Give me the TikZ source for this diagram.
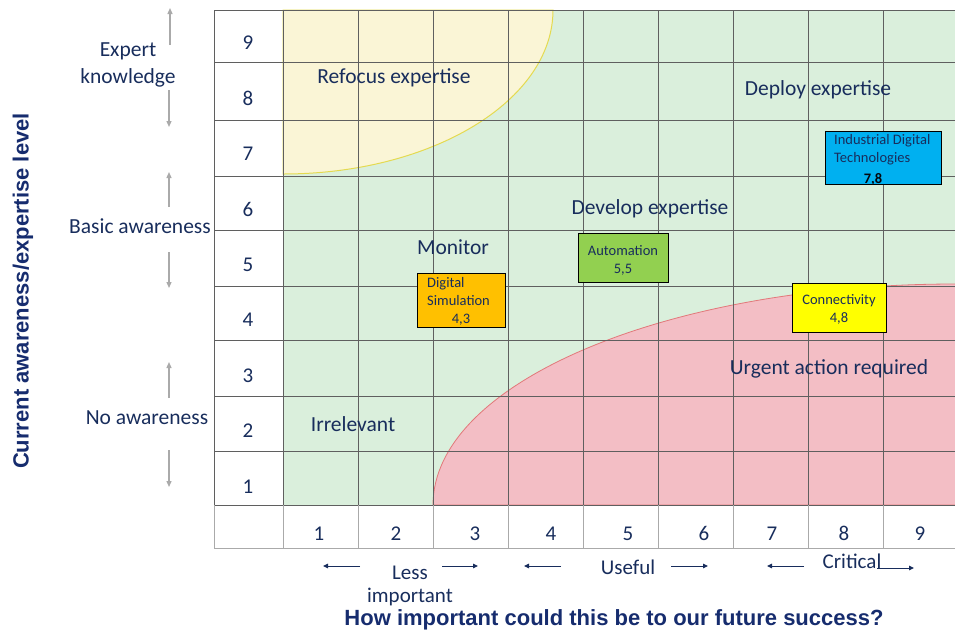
\documentclass[tikz,border=0pt]{standalone}
\usepackage{fontspec}
\setmainfont{Carlito}
\newfontfamily\titlefont{Liberation Sans}
\usetikzlibrary{arrows.meta}
\definecolor{navy}{RGB}{24,45,92}
\definecolor{titleblue}{RGB}{22,44,110}
\definecolor{zonegreen}{RGB}{218,239,220}
\definecolor{zonered}{RGB}{243,190,197}
\definecolor{zoneyellow}{RGB}{250,245,214}
\definecolor{edgeyellow}{RGB}{228,218,80}
\definecolor{edgered}{RGB}{226,120,122}
\definecolor{gridline}{RGB}{95,95,95}
\definecolor{axisline}{RGB}{170,170,170}
\definecolor{boxorange}{RGB}{255,192,0}
\definecolor{boxgreen}{RGB}{146,208,80}
\definecolor{boxyellow}{RGB}{255,255,0}
\definecolor{boxblue}{RGB}{0,176,240}
\begin{document}
\begin{tikzpicture}[x=1pt,y=-1pt,
  lbl/.style={text=navy,font=\fontsize{21.5}{24}\selectfont,inner sep=0pt,anchor=mid,yshift=-4pt},
  num/.style={text=navy,font=\fontsize{21}{24}\selectfont,inner sep=0pt,anchor=mid,yshift=-4pt},
  small/.style={text=navy,font=\fontsize{14.5}{16}\selectfont,inner sep=0pt,anchor=mid,yshift=-3pt},
  tagbox/.style={draw=black,line width=0.9pt,inner sep=0pt},
  grid/.style={draw=gridline,line width=0.9pt},
  axisgrid/.style={draw=axisline,line width=0.9pt},
  grayarrow/.style={draw=axisline,line width=1.3pt,-{Triangle[length=6pt,width=5pt]}},
  navyarrow/.style={draw=navy,line width=1pt,-{Triangle[length=5pt,width=4.5pt]}},
  title/.style={text=titleblue,font=\titlefont\bfseries\fontsize{22}{24}\selectfont,inner sep=0pt}
]
\useasboundingbox (0,0) rectangle (955,633);

% zones
\fill[zonegreen] (283,10) rectangle (958,505);
\filldraw[fill=zoneyellow,draw=edgeyellow,line width=1pt]
  (283,174) arc[start angle=270,end angle=360,x radius=270pt,y radius=164pt] -- (283,10) -- cycle;
\filldraw[fill=zonered,draw=edgered,line width=0.8pt]
  (433,505) arc[start angle=180,end angle=90,x radius=522pt,y radius=221pt] -- (958,284) -- (958,505) -- cycle;

% grid
\foreach \x in {283,358,433,508,583,658,733,808,883}
  \draw[grid] (\x,10) -- (\x,505);
\foreach \y in {10,62,120,176,230,286,340,396,451,505}
  \draw[grid] (214,\y) -- (958,\y);
\draw[grid] (214,10) -- (214,505);
\foreach \x in {283,358,433,508,583,658,733,808,883}
  \draw[axisgrid] (\x,505) -- (\x,548);
\draw[axisgrid] (214,505) -- (214,548) -- (958,548);

% row numbers
\foreach \n/\y in {9/43,8/99,7/154,6/210,5/265,4/320,3/376,2/431,1/487}
  \node[num] (r\n) at (248,\y) {\n};
% column numbers
\foreach \n/\x in {1/319,2/396,3/475,4/551,5/628,6/704,7/772,8/844,9/920}
  \node[num] (c\n) at (\x,534) {\n};

% zone labels
\node[lbl] (refocus) at (394,77) {Refocus expertise};
\node[lbl] (deploy) at (818,89) {Deploy expertise};
\node[lbl] (develop) at (650,208) {Develop expertise};
\node[lbl] (monitor) at (453,248) {Monitor};
\node[lbl] (irrel) at (353,425) {Irrelevant};
\node[lbl] (urgent) at (829,368) {Urgent action required};

% technology boxes
\node[tagbox,fill=boxorange,minimum width=88pt,minimum height=54pt] (sim) at (461,300) {};
\node[small,anchor=mid west] (simA) at (427,282) {Digital};
\node[small,anchor=mid west] (simB) at (427,300) {Simulation};
\node[small] (simC) at (461,318) {4,3};

\node[tagbox,fill=boxgreen,minimum width=90pt,minimum height=49pt] (auto) at (623,257.5) {};
\node[small] (autoA) at (623,250) {Automation};
\node[small] (autoB) at (623,268) {5,5};

\node[tagbox,fill=boxyellow,minimum width=94pt,minimum height=49pt] (conn) at (839,307.5) {};
\node[small] (connA) at (839,299) {Connectivity};
\node[small] (connB) at (839,317) {4,8};

\node[tagbox,fill=boxblue,minimum width=116pt,minimum height=53pt] (idt) at (883,157.5) {};
\node[small,anchor=mid west] (idtA) at (834,139) {Industrial Digital};
\node[small,anchor=mid west] (idtB) at (834,157) {Technologies};
\node[small,font=\fontsize{14.5}{16}\selectfont\bfseries,text=black!85!navy] (idtC) at (873,178) {7,8};

% left axis labels
\node[lbl,align=center,font=\fontsize{21.5}{27}\selectfont] (expert) at (128,77) {Expert\\knowledge};
\node[lbl] (basic) at (140,227) {Basic awareness};
\node[lbl] (noaw) at (147,418) {No awareness};
\coordinate (eu1) at (170,45); \coordinate (eu2) at (170,8);
\coordinate (ed1) at (169,90); \coordinate (ed2) at (169,127);
\coordinate (bu1) at (169,207); \coordinate (bu2) at (169,172);
\coordinate (bd1) at (169,252); \coordinate (bd2) at (169,288);
\coordinate (nu1) at (169,398); \coordinate (nu2) at (169,362);
\coordinate (nd1) at (169,450); \coordinate (nd2) at (169,487);
\draw[grayarrow] (eu1) -- (eu2);
\draw[grayarrow] (ed1) -- (ed2);
\draw[grayarrow] (bu1) -- (bu2);
\draw[grayarrow] (bd1) -- (bd2);
\draw[grayarrow] (nu1) -- (nu2);
\draw[grayarrow] (nd1) -- (nd2);

% bottom axis labels
\node[lbl,font=\fontsize{21}{24}\selectfont] (less) at (410,573) {Less};
\node[lbl,font=\fontsize{21}{24}\selectfont] (imp) at (410,596) {important};
\node[lbl,font=\fontsize{21}{24}\selectfont] (useful) at (628,568) {Useful};
\node[lbl,font=\fontsize{21}{24}\selectfont] (critical) at (852,562) {Critical};
\coordinate (la1) at (360,566); \coordinate (la2) at (323,566);
\coordinate (lb1) at (442,566); \coordinate (lb2) at (478,566);
\coordinate (ua1) at (561,566); \coordinate (ua2) at (524,566);
\coordinate (ub1) at (671,566); \coordinate (ub2) at (708,566);
\coordinate (ca1) at (804,566); \coordinate (ca2) at (767,566);
\coordinate (cb1) at (877,568); \coordinate (cb2) at (914,568);
\draw[navyarrow] (la1) -- (la2);
\draw[navyarrow] (lb1) -- (lb2);
\draw[navyarrow] (ua1) -- (ua2);
\draw[navyarrow] (ub1) -- (ub2);
\draw[navyarrow] (ca1) -- (ca2);
\draw[navyarrow] (cb1) -- (cb2);

% axis titles
\node[title] (xtitle) at (614,620) {How important could this be to our future success?};
\node[title,rotate=90] (ytitle) at (23,291) {Current awareness/expertise level};
\end{tikzpicture}
\end{document}
